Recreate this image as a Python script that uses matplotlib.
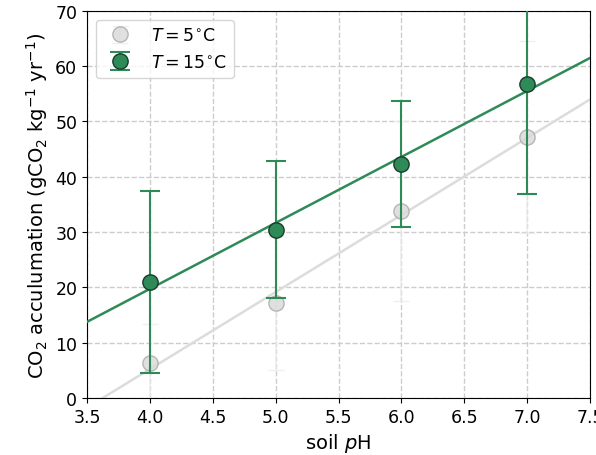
import numpy as np
import matplotlib.pyplot as plt

ph = np.array([4.0, 5.0, 6.0, 7.0])
co2_5 = np.array([6.3, 17.2, 33.8, 47.2])
err_5 = np.array([7.0, 12.1, 16.3, 17.4])
co2_15 = np.array([21.0, 30.4, 42.3, 56.8])
err_15 = np.array([16.4, 12.4, 11.4, 19.9])

green = '#2e8b57'

fig = plt.figure(figsize=(5.96, 4.56), dpi=100)
ax = fig.add_axes([0.146, 0.125, 0.844, 0.849])

xfit = np.linspace(3.5, 7.5, 50)
p5 = np.polyfit(ph, co2_5, 1)
p15 = np.polyfit(ph, co2_15, 1)
ax.plot(xfit, np.polyval(p5, xfit), color='#dcdcdc', lw=1.8, zorder=2)
ax.plot(xfit, np.polyval(p15, xfit), color=green, lw=1.8, zorder=3)

ax.errorbar(ph, co2_5, yerr=err_5, fmt='o', ms=11, mfc='#d9d9d9', mec='#a8a8a8',
            ecolor='#ececec', elinewidth=1.2, capsize=6, alpha=0.8,
            label=r'$T = 5^{\circ}$C', zorder=4)
ax.errorbar(ph, co2_15, yerr=err_15, fmt='o', ms=11, mfc=green, mec='#1a3a2a',
            ecolor=green, elinewidth=1.5, capsize=7, capthick=1.5,
            label=r'$T = 15^{\circ}$C', zorder=5)

ax.set_xlim(3.5, 7.5)
ax.set_ylim(0, 70)
ax.set_xticks(np.arange(3.5, 7.6, 0.5))
ax.set_yticks(np.arange(0, 71, 10))
ax.grid(True, ls='--', color='#cccccc', lw=1)
ax.set_axisbelow(True)
ax.tick_params(labelsize=12.5)
ax.set_xlabel(r'soil $p$H', fontsize=14)
ax.set_ylabel(r'CO$_2$ acculumation (gCO$_2$ kg$^{-1}$ yr$^{-1}$)', fontsize=14)
ax.legend(loc='upper left', fontsize=12.5)

fig.savefig('out.png', dpi=100)
